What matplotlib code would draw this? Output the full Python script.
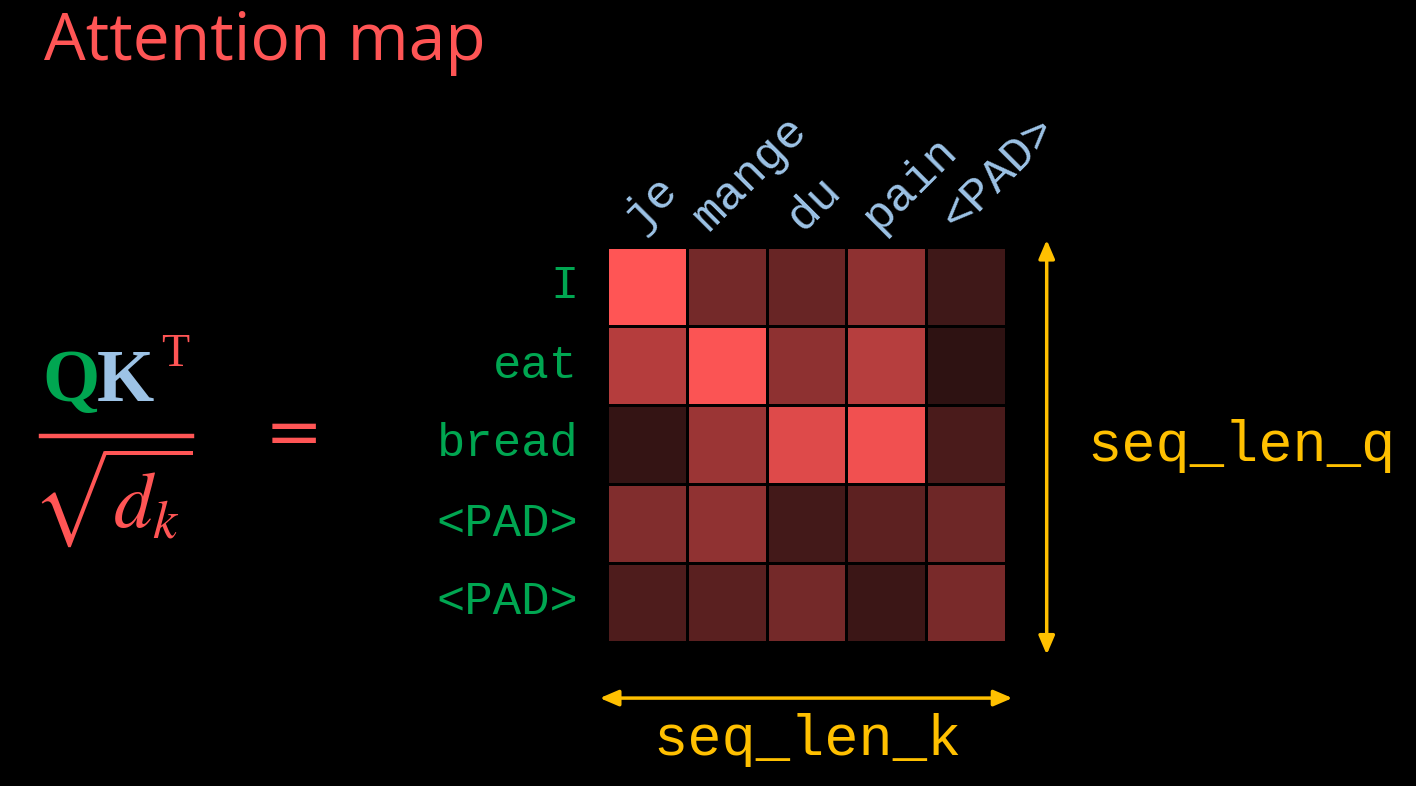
import numpy as np
import matplotlib
matplotlib.use("Agg")
import matplotlib.pyplot as plt
from matplotlib.colors import LinearSegmentedColormap

# ---------------- data ----------------
query_tokens = ["I", "eat", "bread", "<PAD>", "<PAD>"]
key_tokens = ["je", "mange", "du", "pain", "<PAD>"]
attention = [
    [1.00, 0.35, 0.29, 0.47, 0.10],
    [0.65, 0.98, 0.47, 0.66, 0.02],
    [0.05, 0.53, 0.84, 0.93, 0.15],
    [0.41, 0.48, 0.12, 0.24, 0.32],
    [0.17, 0.23, 0.35, 0.08, 0.37],
]
title_text = "Attention map"
q_axis_label = "seq_len_q"
k_axis_label = "seq_len_k"

# ---------------- style / layout ----------------
W, H = 1416, 786
RED = "#FF5555"
GREEN = "#00A651"
BLUE = "#9DC3E6"
GOLD = "#FFC000"
MONO = "Liberation Mono"
key_label_dx = [0.40, 0.28, 0.45, 0.41, 0.39]   # label offsets within each column


def fx(x):
    return x / W


def fy(y):
    return 1 - y / H


fig = plt.figure(figsize=(W / 100, H / 100), dpi=100, facecolor="black")

# title
fig.text(fx(44), fy(60), title_text, color=RED, fontsize=47.5,
         family="Open Sans", ha="left", va="baseline")

# formula QK^T / sqrt(d_k) =
fig.text(fx(42), fy(401), "Q", color=GREEN, fontsize=53, family="Liberation Serif",
         weight="bold", ha="left", va="baseline")
fig.text(fx(97), fy(401), "K", color=BLUE, fontsize=53, family="Liberation Serif",
         weight="bold", ha="left", va="baseline")
fig.text(fx(161), fy(366), "T", color=RED, fontsize=33, family="Liberation Serif",
         ha="left", va="baseline")
fig.add_artist(plt.Line2D([fx(41), fx(192)], [fy(436), fy(436)], color=RED,
                          linewidth=3.2, transform=fig.transFigure))
plt.rcParams["mathtext.fontset"] = "stix"
fig.text(fx(112), fy(498), r"$\sqrt{d_k}$", color=RED, fontsize=56,
         ha="center", va="center")
fig.text(fx(294), fy(436), "=", color=RED, fontsize=50, family="DejaVu Sans",
         ha="center", va="center")

# heatmap
cmap = LinearSegmentedColormap.from_list("attn", ["#2A1111", RED])
ax = fig.add_axes([fx(607), fy(642), (1006 - 607) / W, (642 - 247) / H])
ax.set_facecolor("black")
vals = np.array(attention)
ax.pcolormesh(vals, cmap=cmap, vmin=0, vmax=1, edgecolors="black", linewidth=2)
ax.set_xlim(0, len(key_tokens))
ax.set_ylim(len(query_tokens), 0)
ax.axis("off")

for i, tok in enumerate(query_tokens):
    ax.text(-0.36, i + 0.5, tok, color=GREEN, fontsize=34, family=MONO,
            ha="right", va="center")
for j, tok in enumerate(key_tokens):
    ax.text(j + key_label_dx[j], -0.19, tok, color=BLUE, fontsize=34, family=MONO,
            ha="left", va="baseline", rotation=45, rotation_mode="anchor")

# dimension arrows
arrow_kw = dict(arrowstyle="<|-|>,head_length=0.7,head_width=0.3", color=GOLD,
                linewidth=2.5, mutation_scale=16, shrinkA=0, shrinkB=0)
n = len(query_tokens)
m = len(key_tokens)
ax.annotate("", xy=(m + 0.51, -0.09), xytext=(m + 0.51, n + 0.16),
            arrowprops=arrow_kw, annotation_clip=False)
ax.annotate("", xy=(-0.09, n + 0.71), xytext=(m + 0.08, n + 0.71),
            arrowprops=arrow_kw, annotation_clip=False)

fig.text(fx(1087), fy(461), q_axis_label, color=GOLD, fontsize=41, family=MONO,
         ha="left", va="baseline")
fig.text(fx(807), fy(755), k_axis_label, color=GOLD, fontsize=41, family=MONO,
         ha="center", va="baseline")

fig.savefig("out.png", dpi=100, facecolor="black")
